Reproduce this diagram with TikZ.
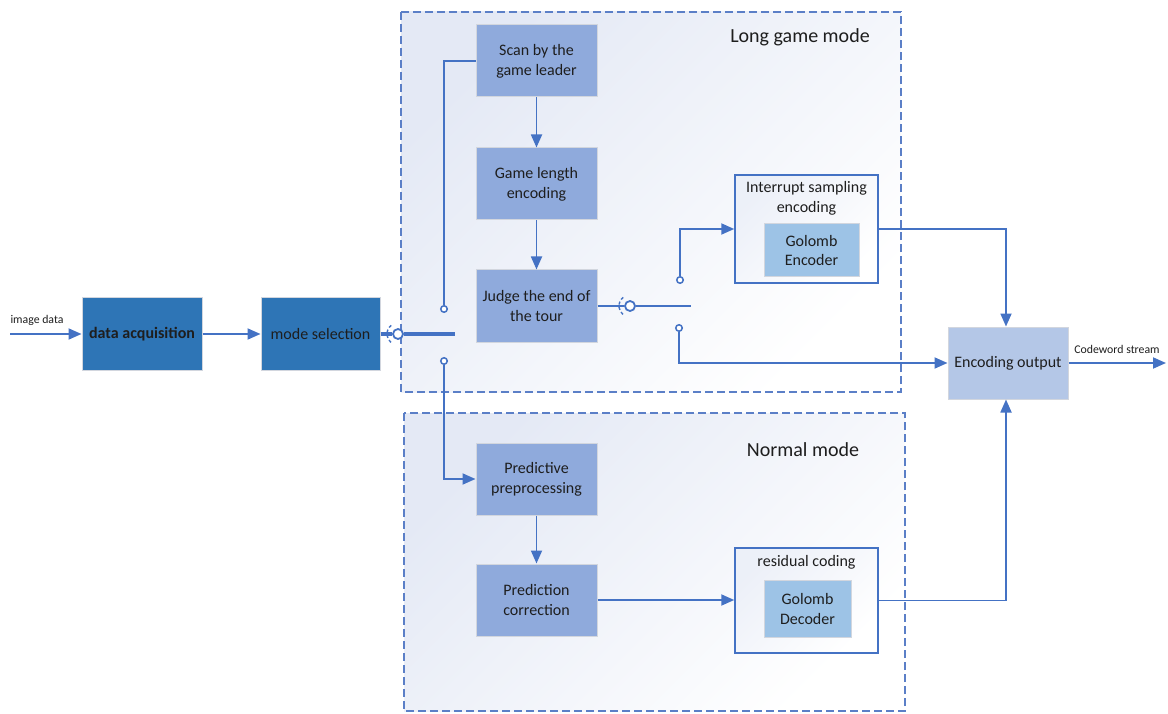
\documentclass[tikz,border=0pt]{standalone}
\usepackage{fontspec}
\setmainfont{Carlito}
\usetikzlibrary{arrows.meta,calc}
\definecolor{lineblue}{HTML}{4472C4}
\definecolor{dashblue}{HTML}{5B7FC7}
\definecolor{darkbox}{HTML}{2E75B6}
\definecolor{midbox}{HTML}{8FAADC}
\definecolor{innerbox}{HTML}{9DC3E6}
\definecolor{lightbox}{HTML}{B4C7E7}
\definecolor{boxedge}{HTML}{D2D6DE}
\definecolor{txt}{HTML}{1E1E1E}
\definecolor{hazeblue}{HTML}{E4E9F5}
\begin{document}
\begin{tikzpicture}[x=1pt,y=-1pt,
  conn/.style={draw=lineblue,line width=1.8pt},
  arr/.style={conn,-{Triangle[length=13pt,width=11pt]}},
  procbox/.style={rectangle,draw=boxedge,line width=1pt,text=txt,align=center,
    font=\fontsize{16}{20}\selectfont,inner sep=2pt},
  darkproc/.style={procbox,fill=darkbox,minimum width=120pt,minimum height=72pt},
  midproc/.style={procbox,fill=midbox,minimum width=121pt,minimum height=72pt},
  groupbox/.style={rectangle,draw=lineblue,line width=1.5pt,
    top color=hazeblue!70,bottom color=white,shading angle=45},
  modebox/.style={draw=dashblue,line width=1.5pt,dash pattern=on 8pt off 4pt,
    top color=hazeblue,bottom color=white,shading angle=45},
  contact/.style={circle,draw=lineblue,line width=1.5pt,fill=white,inner sep=0pt,minimum size=6.5pt},
  pivot/.style={circle,draw=lineblue,line width=1.8pt,fill=white,inner sep=0pt,minimum size=10pt},
  swing/.style={draw=lineblue,line width=1.4pt,dash pattern=on 3pt off 2.5pt},
  label/.style={text=txt,font=\fontsize{11.8}{14}\selectfont,inner sep=0pt}]

\useasboundingbox (0,0) rectangle (1168,714);
\fill[white] (0,0) rectangle (1168,714);

% mode regions
\path[modebox] (401,12) rectangle (901,392);
\path[modebox] (404,413) rectangle (905,711);
\node[text=txt,font=\fontsize{20}{24}\selectfont] (lgm) at (800,37) {Long game mode};
\node[text=txt,font=\fontsize{20}{24}\selectfont] (nm) at (803,450) {Normal mode};

% input side
\node[darkproc,font=\fontsize{16}{20}\selectfont\bfseries] (acq) at (142,334) {data acquisition};
\node[darkproc,minimum width=119pt] (mode) at (320.5,334) {mode selection};
\coordinate (in) at (10,334);
\node[label] (inlab) at (37,320) {image data};

% long game mode chain
\node[midproc] (scan) at (536.5,61) {Scan by the\\game leader};
\node[midproc] (glen) at (536.5,184) {Game length\\encoding};
\node[midproc] (judge) at (536.5,306) {Judge the end of\\the tour};

% normal mode chain
\node[midproc] (pred) at (536.5,479) {Predictive\\preprocessing};
\node[midproc] (corr) at (536.5,600) {Prediction\\correction};

% coder groups
\node[groupbox,minimum width=143pt,minimum height=108pt] (isenc) at (806.5,229) {};
\node[text=txt,align=center,font=\fontsize{16}{20}\selectfont] (islab) at (806.5,198) {Interrupt sampling\\encoding};
\node[procbox,fill=innerbox,minimum width=95pt,minimum height=53pt] (genc) at (811.5,250.5) {Golomb\\Encoder};

\node[groupbox,minimum width=143pt,minimum height=105pt] (res) at (806.5,600.5) {};
\node[text=txt,font=\fontsize{16}{20}\selectfont] (reslab) at (806.5,562) {residual coding};
\node[procbox,fill=innerbox,minimum width=87pt,minimum height=57pt] (gdec) at (807.5,608.5) {Golomb\\Decoder};

% output
\node[procbox,fill=lightbox,minimum width=120pt,minimum height=72pt] (out) at (1008,363) {Encoding output};
\coordinate (stream) at (1166,363);
\node[label] (outlab) at (1117,349) {Codeword stream};

% mode switch: dotted swing arc, pivot and two contacts
\coordinate (s1c) at (398,334);
\draw[swing] (s1c) ++(128:11pt) arc[start angle=128,end angle=232,radius=11pt];
\node[pivot] (s1) at (s1c) {};
\coordinate (s1tip) at (455,334);
\node[contact] (c1up) at (444,309) {};
\node[contact] (c1dn) at (444,361) {};

% end-of-tour switch
\coordinate (s2c) at (630,306);
\draw[swing] (s2c) ++(128:11pt) arc[start angle=128,end angle=232,radius=11pt];
\node[pivot] (s2) at (s2c) {};
\coordinate (s2tip) at (691,306);
\node[contact] (c2up) at (680,280) {};
\node[contact] (c2dn) at (679,328) {};

% connectors
\draw[arr] (in) -- (acq);
\draw[arr] (acq) -- (mode);
\draw[conn,line width=3.5pt] (mode.east) -- (s1.west);
\draw[conn,line width=3.5pt] (s1.east) -- (s1tip);
\draw[conn] (c1up.north) |- (scan.west);
\draw[arr] (c1dn.south) |- (pred.west);
\draw[arr] (scan) -- (glen);
\draw[arr] (glen) -- (judge);
\draw[arr] (pred) -- (corr);
\draw[conn] (judge.east) -- (s2.west);
\draw[conn] (s2.east) -- (s2tip);
\draw[arr] (c2up.north) |- (isenc.west);
\draw[arr] (c2dn.south) |- (out.west);
\draw[arr] (corr.east) -- (corr.east -| res.west);
\draw[arr] (isenc.east) -| ($(out.north)+(-2,0)$);
\draw[arr] (res.east) -| ($(out.south)+(-2,0)$);
\draw[arr] (out.east) -- (stream);
\end{tikzpicture}
\end{document}
